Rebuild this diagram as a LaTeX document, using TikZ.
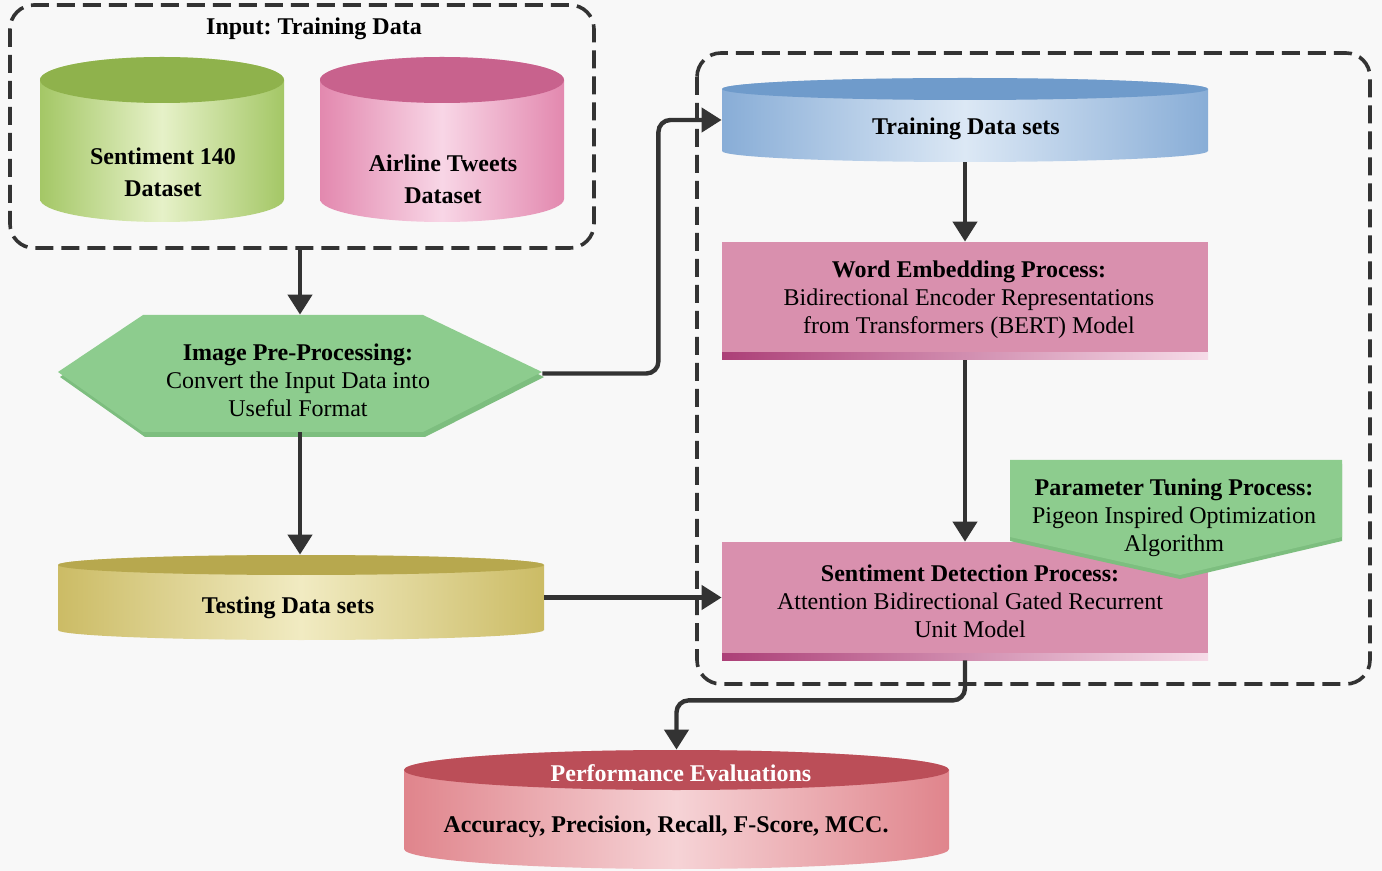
\documentclass[tikz,border=0pt]{standalone}
\usepackage{fontspec}
\setmainfont{Liberation Serif}
\usetikzlibrary{arrows.meta,fit}
\frenchspacing
\definecolor{bg}{HTML}{F8F8F8}
\definecolor{arrgray}{HTML}{333333}
\definecolor{gside}{HTML}{9CC25A}
\definecolor{gmid}{HTML}{E6F1C8}
\definecolor{gtop}{HTML}{8FB24C}
\definecolor{pside}{HTML}{E07FA8}
\definecolor{pmid}{HTML}{F8D6E6}
\definecolor{ptop}{HTML}{C8628D}
\definecolor{bside}{HTML}{7EA6D3}
\definecolor{bmid}{HTML}{DCE8F5}
\definecolor{btop}{HTML}{6F9BCB}
\definecolor{tside}{HTML}{C7B65A}
\definecolor{tmid}{HTML}{F1EBC2}
\definecolor{ttop}{HTML}{B7A84E}
\definecolor{rside}{HTML}{DD7B83}
\definecolor{rmid}{HTML}{F6D3D6}
\definecolor{rtop}{HTML}{BB4E58}
\definecolor{lgreen}{HTML}{8DCC8E}
\definecolor{lgreensh}{HTML}{7DBE7F}
\definecolor{boxpink}{HTML}{D990AE}
\definecolor{stripdark}{HTML}{AC3F77}
\definecolor{striplight}{HTML}{F6DCE8}
\colorlet{cylside}{gside}
\colorlet{cylmid}{gmid}
\pgfdeclarehorizontalshading[cylside,cylmid]{cylshade}{100bp}{%
  color(0bp)=(cylside); color(22bp)=(cylside); color(50bp)=(cylmid);
  color(78bp)=(cylside); color(100bp)=(cylside)}
\newcommand{\mycyl}[8]{%
  \colorlet{cylside}{#6}\colorlet{cylmid}{#7}%
  \path[shading=cylshade]
    (#1,#3) -- (#1,#4)
    arc[start angle=180, end angle=0, x radius={(#2-#1)/2}, y radius=#5]
    -- (#2,#3)
    arc[start angle=0, end angle=-180, x radius={(#2-#1)/2}, y radius=#5]
    -- cycle;
  \fill[#8] ({(#1+#2)/2},#3) ellipse[x radius={(#2-#1)/2}, y radius=#5];
}
\tikzset{
  arr/.style={draw=arrgray, line width=2.2pt, -{Triangle[length=10pt,width=12pt]}, rounded corners=6pt},
  dbox/.style={draw=arrgray, line width=1.8pt, dash pattern=on 9pt off 4pt, rounded corners=12pt},
  txt/.style={font=\fontsize{12}{14}\selectfont, align=center, inner sep=0pt},
  btxt/.style={font=\fontsize{12}{14}\selectfont\bfseries, align=center, inner sep=0pt},
  bbox/.style={inner sep=0pt}
}
\begin{document}
\begin{tikzpicture}[x=0.5pt,y=-0.5pt]
\useasboundingbox (0,0) rectangle (1382,871);
\fill[bg] (0,0) rectangle (1382,871);

% ---- input group
\draw[dbox] (10,5) rectangle (594,248);
\node[bbox, fit={(10,5)(594,248)}] (inbox) {};
\node[btxt] (intitle) at (314,29) {Input: Training Data};
\mycyl{40}{284}{80}{199}{23}{gside}{gmid}{gtop}
\node[bbox, fit={(40,57)(284,222)}] (s140) {};
\node[btxt, font=\fontsize{12}{16}\selectfont\bfseries] (s140t) at (163,172) {Sentiment 140\\Dataset};
\mycyl{320}{564}{80}{199}{23}{pside}{pmid}{ptop}
\node[bbox, fit={(320,57)(564,222)}] (air) {};
\node[btxt, font=\fontsize{12}{16}\selectfont\bfseries] (airt) at (443,179) {Airline Tweets\\Dataset};

% ---- pre-processing hexagon
\fill[lgreensh, shift={(2,5)}] (58,372) -- (143,315) -- (423,315) -- (542,372) -- (423,432) -- (143,432) -- cycle;
\fill[lgreen] (58,372) -- (143,315) -- (423,315) -- (542,372) -- (423,432) -- (143,432) -- cycle;
\node[bbox, fit={(58,315)(542,432)}] (hex) {};
\node[txt] (hext) at (298,380) {\textbf{Image Pre-Processing:}\\Convert the Input Data into\\Useful Format};

% ---- testing cylinder
\mycyl{58}{544}{565}{630}{10}{tside}{tmid}{ttop}
\node[bbox, fit={(58,555)(544,640)}] (test) {};
\node[btxt] (testt) at (288,608) {Testing Data sets};

% ---- right group
\draw[dbox] (697,53) rectangle (1370,684);
\node[bbox, fit={(697,53)(1370,684)}] (rbox) {};

\mycyl{722}{1208}{89}{151}{11}{bside}{bmid}{btop}
\node[bbox, fit={(722,78)(1208,162)}] (train) {};
\node[btxt] (traint) at (966,129) {Training Data sets};

\fill[boxpink] (722,242) rectangle (1208,354);
\shade[left color=stripdark, right color=striplight] (722,353) rectangle (1208,360);
\node[bbox, fit={(722,242)(1208,360)}] (word) {};
\node[txt] (wordt) at (969,300) {\textbf{Word Embedding Process:}\\Bidirectional Encoder Representations\\from Transformers (BERT) Model};

\fill[boxpink] (722,542) rectangle (1208,654);
\shade[left color=stripdark, right color=striplight] (722,653) rectangle (1208,660);
\node[bbox, fit={(722,542)(1208,660)}] (sent) {};
\node[txt] (sentt) at (970,601) {\textbf{Sentiment Detection Process:}\\Attention Bidirectional Gated Recurrent\\Unit Model};

\fill[lgreensh, shift={(0,4)}] (1010,460) -- (1342,460) -- (1342,537) -- (1180,575) -- (1010,537) -- cycle;
\fill[lgreen] (1010,460) -- (1342,460) -- (1342,537) -- (1180,575) -- (1010,537) -- cycle;
\node[bbox, fit={(1010,460)(1342,575)}] (param) {};
\node[txt] (paramt) at (1174,518) {\textbf{Parameter Tuning Process:}\\Pigeon Inspired Optimization\\Algorithm};

% ---- performance cylinder
\mycyl{404}{949}{770}{849}{20}{rside}{rmid}{rtop}
\node[bbox, fit={(404,750)(949,869)}] (perf) {};
\node[btxt, text=white] (perft) at (681,773) {Performance Evaluations};
\node[btxt] (perfm) at (666,827) {Accuracy, Precision, Recall, F-Score, MCC.};

% ---- connectors
\draw[arr] (hex.north |- inbox.south) -- (hex.north);
\draw[arr] (hex.south) -- (hex.south |- test.north);
\draw[arr] (hex.east) -- ++(116,0) |- (train.west);
\draw[arr] (test.east) -- (test.east -| sent.west);
\draw[arr] (train.south) -- (word.north);
\draw[arr] (word.south) -- (sent.north);
\draw[arr] (sent.south) -- ++(0,40) -| (perf.north);
\end{tikzpicture}
\end{document}
